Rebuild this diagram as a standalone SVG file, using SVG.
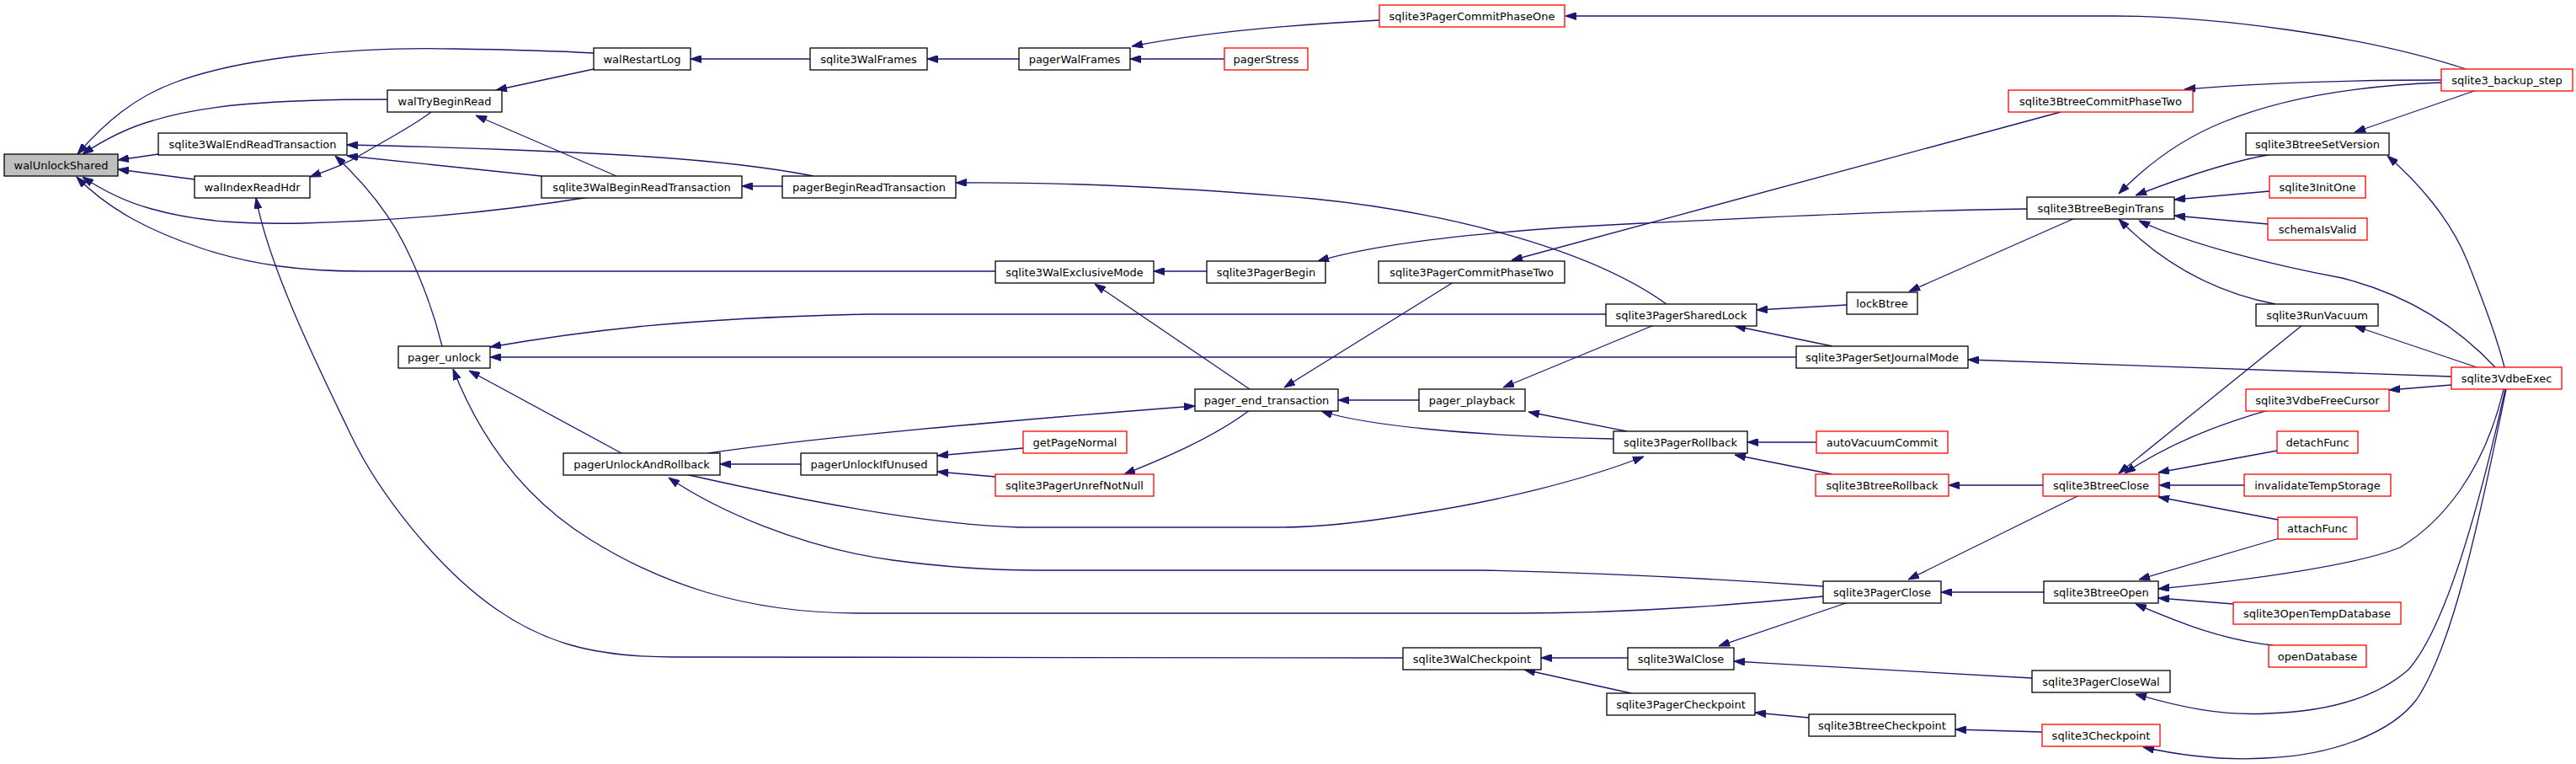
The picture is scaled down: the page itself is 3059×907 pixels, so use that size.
<svg xmlns="http://www.w3.org/2000/svg" width="3059" height="907" viewBox="0 0 3059 907">
<defs>
<style>
.n rect{fill:#fff;stroke:#000;stroke-width:1.3}
.n.r rect{stroke:#f00}
.n.g rect{fill:#bfbfbf}
.n text{font-family:"DejaVu Sans","Liberation Sans",sans-serif;font-size:13px;text-anchor:middle;fill:#000}
#edges path{fill:none;stroke:#191970;stroke-width:1.3;marker-start:url(#ah)}
</style>
<marker id="ah" viewBox="0 0 13 9" refX="13" refY="4.5" markerWidth="13" markerHeight="9" markerUnits="userSpaceOnUse" orient="auto-start-reverse">
<path d="M0,0 L13,4.5 L0,9 z" fill="#191970" stroke="#191970" stroke-width="1"/>
</marker>
</defs>
<rect width="3059" height="907" fill="#fff"/>
<g id="edges">
<path d="M92,183 C125,145 160,115 210,97 C290,68 420,55 540,58 C610,59 670,61 705,63"/>
<path d="M98,183 C125,165 150,152 182,143 C240,125 320,118 460,118"/>
<path d="M140,190 L188,183"/>
<path d="M140,201 L231,213"/>
<path d="M98,210 C125,228 150,240 180,248 C240,265 300,266 360,265 C480,262 600,250 700,234"/>
<path d="M91,210 C130,250 180,275 240,295 C300,315 360,322 430,322 L1182,322"/>
<path d="M589,107 L705,82"/>
<path d="M368,210 C390,202 410,195 430,183 C460,165 490,150 512,133"/>
<path d="M565,137 L732,209"/>
<path d="M412,185 L643,209"/>
<path d="M412,172 C520,174 680,180 770,186 C860,192 920,200 966,209"/>
<path d="M398,185 C430,215 460,250 480,290 C500,330 515,370 525,411"/>
<path d="M304,235 C320,320 380,440 417,517 C450,586 520,675 589,723 C644,761 700,780 800,780 L1666,781"/>
<path d="M881,221 L929,221"/>
<path d="M820,70 L962,70"/>
<path d="M1101,70 L1210,70"/>
<path d="M1342,70 L1454,70"/>
<path d="M1344,55 C1420,40 1520,30 1638,24"/>
<path d="M1859,19 L2511,19 C2620,19 2800,40 2928,82"/>
<path d="M2594,106 C2700,97 2800,95 2899,95"/>
<path d="M2516,230 C2550,195 2590,165 2640,145 C2720,112 2820,101 2899,98"/>
<path d="M2796,157 L2941,107"/>
<path d="M1795,309 L2447,133"/>
<path d="M1565,310 C1650,285 1800,272 1950,265 C2100,258 2250,250 2407,248"/>
<path d="M2536,232 C2580,215 2640,193 2698,183"/>
<path d="M2582,237 L2695,227"/>
<path d="M2582,256 L2693,266"/>
<path d="M2516,260 C2560,305 2620,345 2702,361"/>
<path d="M2540,262 C2600,290 2700,315 2781,330 C2860,350 2920,390 2963,436"/>
<path d="M2267,346 L2464,259"/>
<path d="M2086,368 L2193,362"/>
<path d="M2060,387 L2176,411"/>
<path d="M582,412 C680,395 800,378 1030,373 L1907,373"/>
<path d="M582,424 L2133,424"/>
<path d="M557,440 L738,538"/>
<path d="M538,438 C570,520 620,590 700,640 C780,690 880,728 1020,728 L1800,728 C1950,728 2080,716 2165,708"/>
<path d="M794,567 C850,605 950,650 1060,665 C1120,673 1180,677 1230,677 L1760,677 C1900,680 2050,688 2165,696"/>
<path d="M1952,542 C1880,570 1780,595 1680,610 C1620,620 1570,626 1520,626 L1210,626 C1120,623 1000,605 814,563"/>
<path d="M1419,482 C1250,495 1000,515 841,538"/>
<path d="M855,551 L951,551"/>
<path d="M1113,541 L1215,532"/>
<path d="M1113,560 L1182,566"/>
<path d="M1335,563 C1380,545 1440,520 1484,487"/>
<path d="M1300,337 L1484,462"/>
<path d="M1370,322 L1433,322"/>
<path d="M1525,460 L1726,335"/>
<path d="M1589,475 L1685,475"/>
<path d="M1569,488 C1620,505 1750,518 1916,521"/>
<path d="M1785,460 L1964,386"/>
<path d="M1815,489 L1932,512"/>
<path d="M1135,217 C1250,216 1400,222 1560,236 C1700,250 1880,290 1979,361"/>
<path d="M2075,525 L2157,525"/>
<path d="M2060,540 L2176,563"/>
<path d="M2314,576 L2426,576"/>
<path d="M2516,562 L2734,386"/>
<path d="M2523,562 C2570,530 2630,505 2693,487"/>
<path d="M2563,561 L2704,535"/>
<path d="M2564,576 L2665,576"/>
<path d="M2563,590 L2705,617"/>
<path d="M2266,688 L2467,589"/>
<path d="M2837,463 L2911,457"/>
<path d="M2337,427 C2600,436 2800,443 2911,447"/>
<path d="M2796,387 L2941,436"/>
<path d="M2835,185 C2870,215 2910,260 2930,310 C2950,360 2965,400 2974,436"/>
<path d="M2563,699 C2680,688 2800,670 2850,650 C2900,620 2950,560 2973,462"/>
<path d="M2536,824 C2590,840 2640,850 2693,847 C2760,845 2820,830 2860,795 C2900,750 2940,620 2975,462"/>
<path d="M2545,887 C2590,897 2640,903 2690,900 C2770,897 2840,870 2870,830 C2910,770 2940,640 2976,462"/>
<path d="M2540,688 L2707,639"/>
<path d="M2563,710 L2652,717"/>
<path d="M2536,717 C2590,740 2640,760 2699,766"/>
<path d="M2305,703 L2427,703"/>
<path d="M2041,767 L2195,715"/>
<path d="M2059,785 C2200,793 2350,802 2413,805"/>
<path d="M1830,781 L1933,781"/>
<path d="M1810,795 L1937,823"/>
<path d="M2084,846 L2148,852"/>
<path d="M2322,866 L2425,869"/>
</g>
<g id="walUnlockShared" class="n g"><rect x="5" y="183" width="135" height="26"/><text x="72.5" y="200.5">walUnlockShared</text></g>
<g id="walRestartLog" class="n"><rect x="705" y="57" width="115" height="26"/><text x="762.5" y="74.5">walRestartLog</text></g>
<g id="walTryBeginRead" class="n"><rect x="460" y="107" width="136" height="26"/><text x="528" y="124.5">walTryBeginRead</text></g>
<g id="sqlite3WalEndReadTransaction" class="n"><rect x="188" y="158" width="224" height="26"/><text x="300" y="175.5">sqlite3WalEndReadTransaction</text></g>
<g id="walIndexReadHdr" class="n"><rect x="231" y="209" width="137" height="26"/><text x="299.5" y="226.5">walIndexReadHdr</text></g>
<g id="sqlite3WalBeginReadTransaction" class="n"><rect x="643" y="209" width="238" height="26"/><text x="762" y="226.5">sqlite3WalBeginReadTransaction</text></g>
<g id="sqlite3WalFrames" class="n"><rect x="962" y="57" width="139" height="26"/><text x="1031.5" y="74.5">sqlite3WalFrames</text></g>
<g id="pagerWalFrames" class="n"><rect x="1210" y="57" width="132" height="26"/><text x="1276" y="74.5">pagerWalFrames</text></g>
<g id="pagerStress" class="n r"><rect x="1454" y="57" width="99" height="26"/><text x="1503.5" y="74.5">pagerStress</text></g>
<g id="pagerBeginReadTransaction" class="n"><rect x="929" y="209" width="206" height="26"/><text x="1032" y="226.5">pagerBeginReadTransaction</text></g>
<g id="sqlite3PagerCommitPhaseOne" class="n r"><rect x="1638" y="6" width="220" height="26"/><text x="1748" y="23.5">sqlite3PagerCommitPhaseOne</text></g>
<g id="sqlite3_backup_step" class="n r"><rect x="2899" y="82" width="156" height="26"/><text x="2977" y="99.5">sqlite3_backup_step</text></g>
<g id="sqlite3BtreeCommitPhaseTwo" class="n r"><rect x="2385" y="107" width="219" height="26"/><text x="2494.5" y="124.5">sqlite3BtreeCommitPhaseTwo</text></g>
<g id="sqlite3BtreeSetVersion" class="n"><rect x="2667" y="158" width="170" height="26"/><text x="2752" y="175.5">sqlite3BtreeSetVersion</text></g>
<g id="sqlite3InitOne" class="n r"><rect x="2695" y="209" width="114" height="26"/><text x="2752" y="226.5">sqlite3InitOne</text></g>
<g id="sqlite3BtreeBeginTrans" class="n"><rect x="2407" y="234" width="175" height="26"/><text x="2494.5" y="251.5">sqlite3BtreeBeginTrans</text></g>
<g id="schemaIsValid" class="n r"><rect x="2693" y="259" width="118" height="26"/><text x="2752" y="276.5">schemaIsValid</text></g>
<g id="pager_unlock" class="n"><rect x="473" y="411" width="109" height="26"/><text x="527.5" y="428.5">pager_unlock</text></g>
<g id="pagerUnlockAndRollback" class="n"><rect x="669" y="538" width="186" height="26"/><text x="762" y="555.5">pagerUnlockAndRollback</text></g>
<g id="sqlite3WalExclusiveMode" class="n"><rect x="1182" y="310" width="188" height="26"/><text x="1276" y="327.5">sqlite3WalExclusiveMode</text></g>
<g id="sqlite3PagerBegin" class="n"><rect x="1433" y="310" width="141" height="26"/><text x="1503.5" y="327.5">sqlite3PagerBegin</text></g>
<g id="pager_end_transaction" class="n"><rect x="1419" y="462" width="170" height="26"/><text x="1504" y="479.5">pager_end_transaction</text></g>
<g id="getPageNormal" class="n r"><rect x="1215" y="512" width="123" height="26"/><text x="1276.5" y="529.5">getPageNormal</text></g>
<g id="pagerUnlockIfUnused" class="n"><rect x="951" y="538" width="162" height="26"/><text x="1032" y="555.5">pagerUnlockIfUnused</text></g>
<g id="sqlite3PagerUnrefNotNull" class="n r"><rect x="1182" y="563" width="188" height="26"/><text x="1276" y="580.5">sqlite3PagerUnrefNotNull</text></g>
<g id="sqlite3PagerCommitPhaseTwo" class="n"><rect x="1637" y="310" width="221" height="26"/><text x="1747.5" y="327.5">sqlite3PagerCommitPhaseTwo</text></g>
<g id="sqlite3PagerSharedLock" class="n"><rect x="1907" y="361" width="179" height="26"/><text x="1996.5" y="378.5">sqlite3PagerSharedLock</text></g>
<g id="lockBtree" class="n"><rect x="2193" y="347" width="84" height="26"/><text x="2235" y="364.5">lockBtree</text></g>
<g id="sqlite3PagerSetJournalMode" class="n"><rect x="2133" y="411" width="204" height="26"/><text x="2235" y="428.5">sqlite3PagerSetJournalMode</text></g>
<g id="pager_playback" class="n"><rect x="1685" y="462" width="126" height="26"/><text x="1748" y="479.5">pager_playback</text></g>
<g id="sqlite3PagerRollback" class="n"><rect x="1916" y="512" width="159" height="26"/><text x="1995.5" y="529.5">sqlite3PagerRollback</text></g>
<g id="autoVacuumCommit" class="n r"><rect x="2157" y="512" width="156" height="26"/><text x="2235" y="529.5">autoVacuumCommit</text></g>
<g id="sqlite3BtreeRollback" class="n r"><rect x="2156" y="563" width="158" height="26"/><text x="2235" y="580.5">sqlite3BtreeRollback</text></g>
<g id="sqlite3RunVacuum" class="n"><rect x="2679" y="361" width="145" height="26"/><text x="2751.5" y="378.5">sqlite3RunVacuum</text></g>
<g id="sqlite3VdbeExec" class="n r"><rect x="2911" y="436" width="131" height="26"/><text x="2976.5" y="453.5">sqlite3VdbeExec</text></g>
<g id="sqlite3VdbeFreeCursor" class="n r"><rect x="2667" y="462" width="170" height="26"/><text x="2752" y="479.5">sqlite3VdbeFreeCursor</text></g>
<g id="detachFunc" class="n r"><rect x="2704" y="512" width="96" height="26"/><text x="2752" y="529.5">detachFunc</text></g>
<g id="sqlite3BtreeClose" class="n r"><rect x="2426" y="563" width="138" height="26"/><text x="2495" y="580.5">sqlite3BtreeClose</text></g>
<g id="invalidateTempStorage" class="n r"><rect x="2665" y="563" width="174" height="26"/><text x="2752" y="580.5">invalidateTempStorage</text></g>
<g id="attachFunc" class="n r"><rect x="2705" y="614" width="94" height="26"/><text x="2752" y="631.5">attachFunc</text></g>
<g id="sqlite3PagerClose" class="n"><rect x="2165" y="690" width="140" height="26"/><text x="2235" y="707.5">sqlite3PagerClose</text></g>
<g id="sqlite3WalCheckpoint" class="n"><rect x="1666" y="769" width="164" height="26"/><text x="1748" y="786.5">sqlite3WalCheckpoint</text></g>
<g id="sqlite3WalClose" class="n"><rect x="1933" y="769" width="126" height="26"/><text x="1996" y="786.5">sqlite3WalClose</text></g>
<g id="sqlite3PagerCheckpoint" class="n"><rect x="1908" y="823" width="176" height="26"/><text x="1996" y="840.5">sqlite3PagerCheckpoint</text></g>
<g id="sqlite3BtreeCheckpoint" class="n"><rect x="2148" y="848" width="174" height="26"/><text x="2235" y="865.5">sqlite3BtreeCheckpoint</text></g>
<g id="sqlite3BtreeOpen" class="n"><rect x="2427" y="690" width="136" height="26"/><text x="2495" y="707.5">sqlite3BtreeOpen</text></g>
<g id="sqlite3OpenTempDatabase" class="n r"><rect x="2652" y="715" width="199" height="26"/><text x="2751.5" y="732.5">sqlite3OpenTempDatabase</text></g>
<g id="openDatabase" class="n r"><rect x="2694" y="766" width="116" height="26"/><text x="2752" y="783.5">openDatabase</text></g>
<g id="sqlite3PagerCloseWal" class="n"><rect x="2413" y="796" width="164" height="26"/><text x="2495" y="813.5">sqlite3PagerCloseWal</text></g>
<g id="sqlite3Checkpoint" class="n r"><rect x="2425" y="860" width="140" height="26"/><text x="2495" y="877.5">sqlite3Checkpoint</text></g>
</svg>
